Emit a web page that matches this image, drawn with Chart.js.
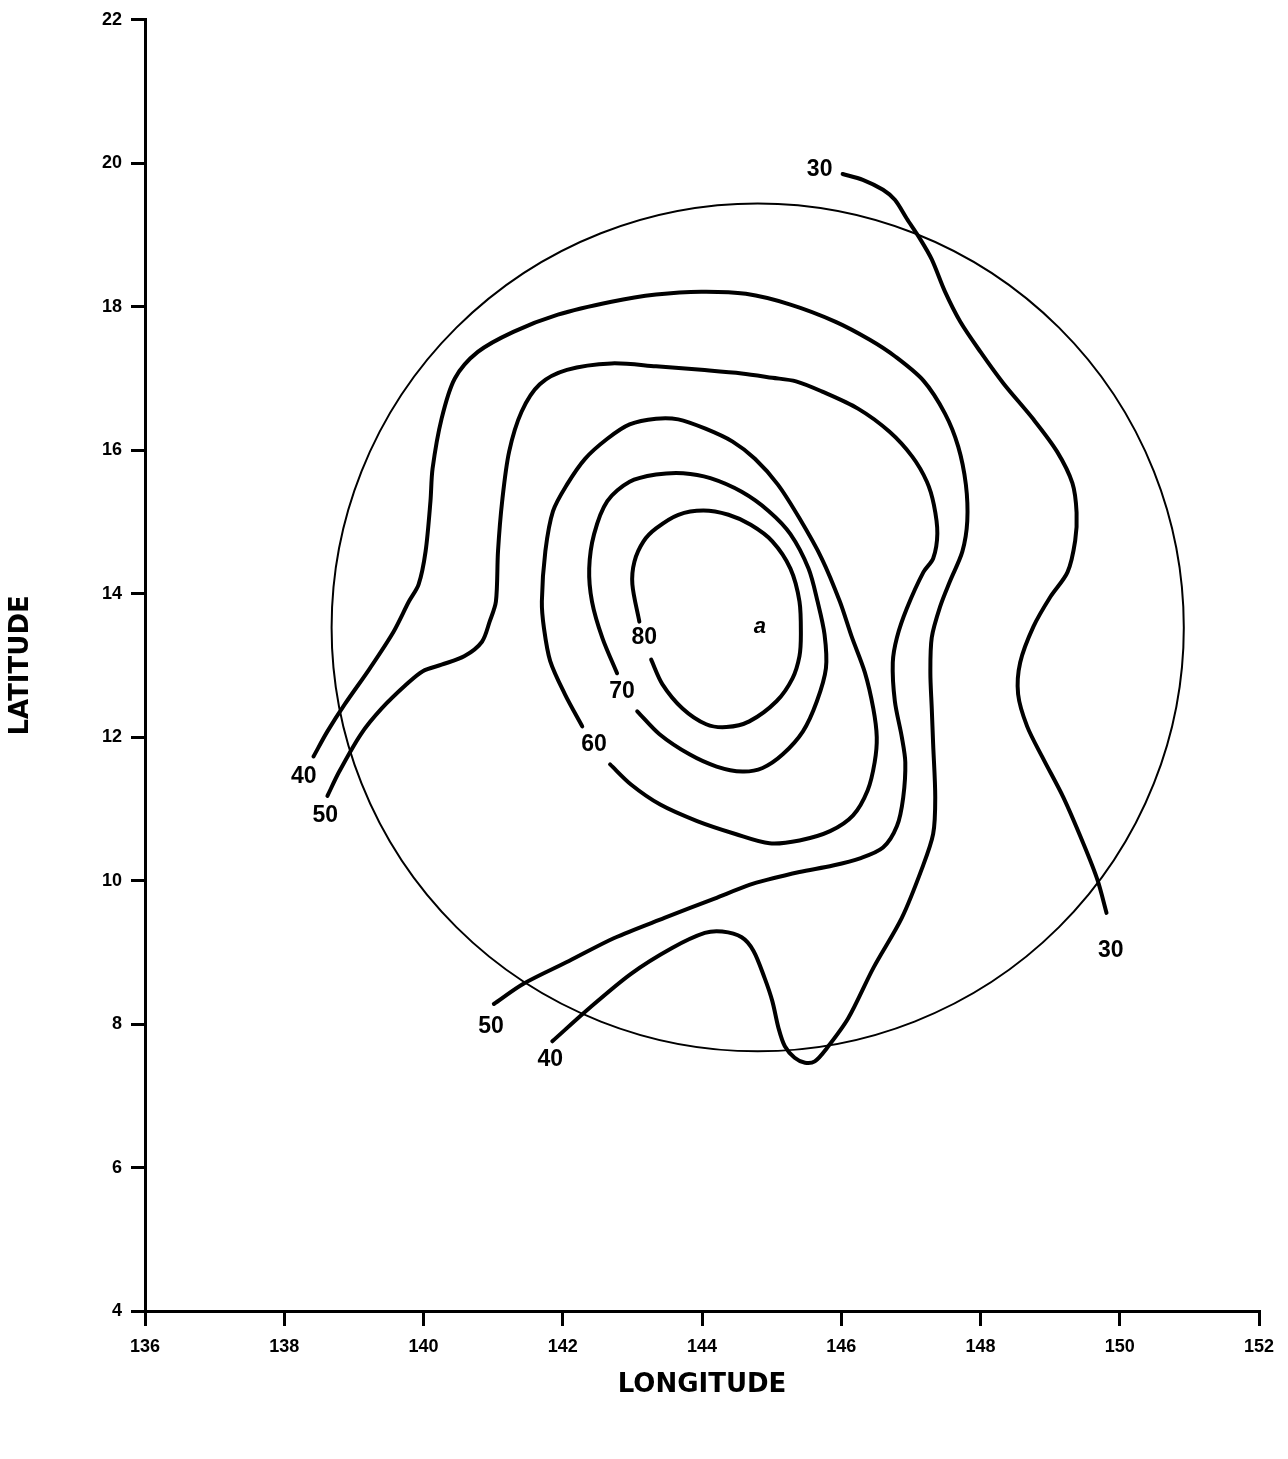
<!DOCTYPE html>
<html>
<head>
<meta charset="utf-8">
<script src="https://cdn.jsdelivr.net/npm/chart.js@4.4.1/dist/chart.umd.min.js"></script>
<style>
  html, body { margin: 0; padding: 0; background: #fff; }
  #wrap { width: 1288px; height: 1459px; }
</style>
</head>
<body>
<div id="wrap"><canvas id="chart" width="1288" height="1459"></canvas></div>
<script>
// axis ticks
const lonTicks = [136, 138, 140, 142, 144, 146, 148, 150, 152];
const latTicks = [4, 6, 8, 10, 12, 14, 16, 18, 20, 22];

// contour lines, [longitude, latitude]
const contour30 = [[146.02,19.85],[146.31,19.77],[146.60,19.63],[146.77,19.49],[146.94,19.23],[147.13,18.95],
  [147.30,18.66],[147.49,18.21],[147.71,17.79],[148.00,17.37],[148.33,16.93],[148.76,16.43],[149.10,15.98],
  [149.32,15.54],[149.38,15.13],[149.36,14.74],[149.25,14.30],[149.00,13.95],[148.76,13.54],[148.57,13.04],
  [148.54,12.60],[148.67,12.15],[148.90,11.70],[149.19,11.16],[149.48,10.51],[149.68,10.01],[149.81,9.55]];

const contour40 = [[138.42,11.73],[138.62,12.08],[138.87,12.46],[139.23,12.96],[139.57,13.47],[139.79,13.89],
  [139.93,14.13],[140.03,14.59],[140.10,15.29],[140.13,15.74],[140.26,16.44],[140.45,17.00],[140.78,17.37],
  [141.29,17.65],[141.93,17.89],[142.70,18.07],[143.34,18.17],[143.99,18.21],[144.63,18.18],[145.27,18.03],
  [145.92,17.79],[146.41,17.54],[146.77,17.31],[147.18,16.97],[147.49,16.51],[147.68,16.05],[147.79,15.52],
  [147.81,15.01],[147.74,14.59],[147.56,14.17],[147.42,13.82],[147.30,13.39],[147.28,12.90],[147.30,12.40],
  [147.32,11.90],[147.35,11.16],[147.32,10.65],[147.16,10.17],[146.87,9.48],[146.46,8.78],[146.10,8.08],
  [145.79,7.66],[145.62,7.48],[145.48,7.46],[145.33,7.53],[145.19,7.69],[145.10,7.94],[145.01,8.32],
  [144.90,8.64],[144.74,9.02],[144.57,9.21],[144.29,9.29],[144.04,9.27],[143.57,9.06],[142.98,8.70],
  [142.38,8.22],[141.85,7.76]];

const contour50 = [[138.62,11.18],[138.79,11.52],[139.10,12.04],[139.40,12.40],[139.76,12.74],[139.99,12.92],
  [140.26,13.01],[140.59,13.13],[140.84,13.33],[140.95,13.61],[141.04,13.89],[141.07,14.59],[141.13,15.29],
  [141.23,15.98],[141.41,16.54],[141.67,16.92],[142.06,17.12],[142.70,17.21],[143.34,17.17],[143.99,17.12],
  [144.57,17.07],[145.01,17.01],[145.35,16.96],[145.72,16.82],[146.24,16.58],[146.69,16.26],[147.02,15.91],
  [147.23,15.56],[147.33,15.24],[147.38,14.84],[147.32,14.49],[147.18,14.30],[146.94,13.79],[146.80,13.39],
  [146.74,13.04],[146.77,12.50],[146.87,12.00],[146.92,11.65],[146.89,11.16],[146.80,10.76],[146.60,10.46],
  [146.27,10.31],[145.88,10.21],[145.40,10.12],[144.93,10.01],[144.68,9.94],[144.18,9.75],[143.46,9.48],
  [142.74,9.20],[142.09,8.88],[141.43,8.56],[141.01,8.28]];

const contour60 = [[142.28,12.15],[142.03,12.60],[141.82,13.06],[141.73,13.52],[141.70,13.89],[141.75,14.59],
  [141.86,15.15],[142.06,15.52],[142.32,15.88],[142.64,16.16],[142.96,16.36],[143.34,16.44],[143.66,16.43],
  [144.05,16.30],[144.44,16.12],[144.76,15.88],[145.09,15.52],[145.40,15.05],[145.72,14.49],[145.98,13.89],
  [146.15,13.40],[146.34,12.90],[146.46,12.40],[146.51,12.00],[146.48,11.65],[146.38,11.26],[146.17,10.91],
  [145.84,10.69],[145.40,10.56],[144.97,10.52],[144.48,10.65],[143.93,10.83],[143.40,11.06],[142.98,11.34],
  [142.68,11.62]];

const contour70 = [[142.78,12.89],[142.57,13.38],[142.42,13.89],[142.38,14.35],[142.45,14.83],[142.64,15.29],
  [142.96,15.56],[143.34,15.66],[143.73,15.68],[144.12,15.61],[144.57,15.42],[144.96,15.15],[145.27,14.83],
  [145.53,14.35],[145.66,13.89],[145.76,13.43],[145.78,12.96],[145.65,12.50],[145.45,12.08],[145.16,11.76],
  [144.87,11.57],[144.58,11.52],[144.21,11.59],[143.82,11.76],[143.39,12.04],[143.07,12.36]];

const contour80 = [[143.10,13.61],[143.00,14.13],[143.03,14.45],[143.16,14.73],[143.34,14.91],[143.66,15.10],
  [144.02,15.16],[144.38,15.10],[144.70,14.96],[145.01,14.73],[145.27,14.35],[145.40,13.89],[145.42,13.43],
  [145.40,13.13],[145.30,12.82],[145.07,12.50],[144.68,12.22],[144.35,12.14],[144.06,12.18],[143.72,12.40],
  [143.43,12.74],[143.27,13.08]];

// contour value labels
const labelText = ['30', '30', '40', '40', '50', '50', '60', '70', '80'];
const labelLon = [145.69, 149.87, 138.28, 141.82, 138.59, 140.97, 142.45, 142.85, 143.17];
const labelLat = [19.91, 9.02, 11.45, 7.50, 10.90, 7.97, 11.90, 12.64, 13.38];

// storm centre and the surrounding circle (degrees)
const stormCenter = [144.83, 13.54];
const circleCenter = [144.80, 13.53];
const circleRadius = [6.12, 5.91];

const contours = [contour30, contour40, contour50, contour60, contour70, contour80];

const extras = {
    id: 'extras',
    beforeDatasetsDraw(chart) {
        const ctx = chart.ctx, x = chart.scales.x, y = chart.scales.y;
        const cx = x.getPixelForValue(circleCenter[0]);
        const cy = y.getPixelForValue(circleCenter[1]);
        const rx = x.getPixelForValue(circleCenter[0] + circleRadius[0]) - cx;
        const ry = cy - y.getPixelForValue(circleCenter[1] + circleRadius[1]);
        ctx.save();
        ctx.strokeStyle = '#000';
        ctx.lineWidth = 2;
        ctx.beginPath();
        ctx.ellipse(cx, cy, rx, ry, 0, 0, Math.PI * 2);
        ctx.stroke();
        ctx.restore();
    },
    afterDatasetsDraw(chart) {
        const ctx = chart.ctx, x = chart.scales.x, y = chart.scales.y;
        ctx.save();
        ctx.fillStyle = '#000';
        ctx.textAlign = 'center';
        ctx.textBaseline = 'middle';
        ctx.font = 'bold 23px "Liberation Sans", Arial, sans-serif';
        labelText.forEach((t, i) => {
            ctx.fillText(t, x.getPixelForValue(labelLon[i]), y.getPixelForValue(labelLat[i]));
        });
        // storm symbol
        ctx.font = 'italic bold 22px "Liberation Sans", Arial, sans-serif';
        ctx.fillText('a', x.getPixelForValue(stormCenter[0]), y.getPixelForValue(stormCenter[1]));
        ctx.restore();
    }
};

new Chart(document.getElementById('chart').getContext('2d'), {
    type: 'scatter',
    data: {
        datasets: contours.map(c => ({
            data: c.map(p => ({x: p[0], y: p[1]})),
            showLine: true,
            borderColor: '#000',
            borderWidth: 4,
            borderCapStyle: 'round',
            borderJoinStyle: 'round',
            tension: 0.3,
            pointRadius: 0,
            clip: false
        }))
    },
    options: {
        responsive: false,
        animation: false,
        devicePixelRatio: 1,
        layout: { padding: { left: 0, top: 18, right: 29, bottom: 0 } },
        plugins: { legend: { display: false }, tooltip: { enabled: false } },
        scales: {
            x: {
                type: 'linear',
                min: 136,
                max: 152,
                afterBuildTicks: s => { s.ticks = lonTicks.map(v => ({value: v})); },
                afterFit: s => { s.height = 148; },
                ticks: {
                    color: '#000',
                    font: { family: '"Liberation Sans", Arial, sans-serif', size: 18, weight: 'bold' },
                    padding: 10,
                    maxRotation: 0,
                    autoSkip: false
                },
                grid: { drawOnChartArea: false, drawTicks: true, tickLength: 15, lineWidth: 3, color: '#000' },
                border: { display: true, width: 3, color: '#000' },
                title: {
                    display: true,
                    text: 'LONGITUDE',
                    color: '#000',
                    font: { family: '"DejaVu Sans", sans-serif', size: 26, weight: 'bold' },
                    padding: { top: 0, bottom: 58 }
                }
            },
            y: {
                type: 'linear',
                min: 4,
                max: 22,
                afterBuildTicks: s => { s.ticks = latTicks.map(v => ({value: v})); },
                afterFit: s => { s.width = 145; },
                ticks: {
                    color: '#000',
                    font: { family: '"Liberation Sans", Arial, sans-serif', size: 18, weight: 'bold' },
                    padding: 9,
                    autoSkip: false
                },
                grid: { drawOnChartArea: false, drawTicks: true, tickLength: 14, lineWidth: 3, color: '#000' },
                border: { display: true, width: 3, color: '#000' },
                title: {
                    display: true,
                    text: 'LATITUDE',
                    color: '#000',
                    font: { family: '"DejaVu Sans", sans-serif', size: 26, weight: 'bold' },
                    padding: { top: 6, bottom: 0 }
                }
            }
        }
    },
    plugins: [extras]
});
</script>
</body>
</html>
